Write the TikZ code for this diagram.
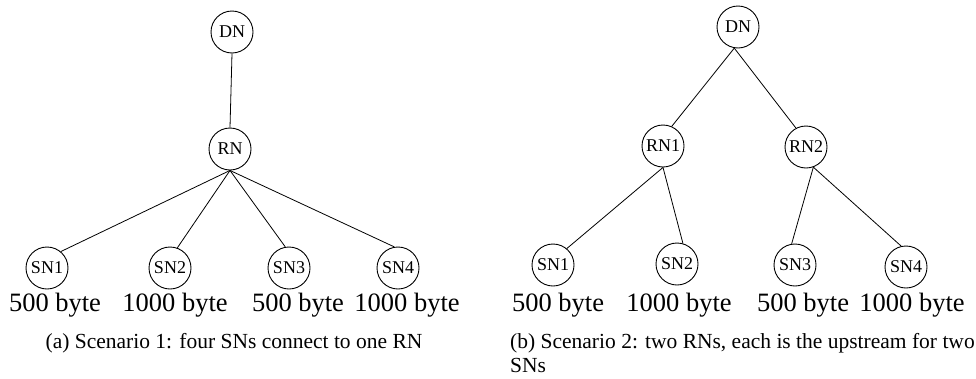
\documentclass[tikz,border=0pt]{standalone}
\usepackage{fontspec}
\setmainfont{Liberation Serif}
\begin{document}
\begin{tikzpicture}[x=1pt,y=-1pt,
  nd/.style={circle,draw,line width=0.9pt,minimum size=42pt,inner sep=0pt,font=\fontsize{18}{20}\selectfont},
  conn/.style={line width=0.8pt},
  lbl/.style={font=\fontsize{26.5}{30}\selectfont,inner sep=0pt},
  captxt/.style={font=\fontsize{21.5}{24}\selectfont,inner sep=0pt}]
\useasboundingbox (0,0) rectangle (976,378);
% left panel
\node[nd] (aDN) at (232,32) {DN};
\node[nd] (aRN) at (230,149) {RN};
\node[nd] (aSN1) at (47,268) {SN1};
\node[nd] (aSN2) at (170,268) {SN2};
\node[nd] (aSN3) at (289,268) {SN3};
\node[nd] (aSN4) at (398,268) {SN4};
\draw[conn] (aDN.south) -- (aRN.north);
\draw[conn] (aRN.south) -- (aSN1.50);
\draw[conn] (aRN.south) -- (aSN2.70);
\draw[conn] (aRN.south) -- (aSN3.100);
\draw[conn] (aRN.south) -- (aSN4.100);
\node[lbl] (aL1) at (55,305) {500 byte};
\node[lbl] (aL2) at (175,305) {1000 byte};
\node[lbl] (aL3) at (298,305) {500 byte};
\node[lbl] (aL4) at (407,305) {1000 byte};
\node[captxt] (acap) at (234,343) {(a) Scenario 1: four SNs connect to one RN};
% right panel
\node[nd] (bDN) at (738,27) {DN};
\node[nd] (bRN1) at (663,146) {RN1};
\node[nd] (bRN2) at (806,147) {RN2};
\node[nd] (bSN1) at (553,265) {SN1};
\node[nd] (bSN2) at (677,264) {SN2};
\node[nd] (bSN3) at (795,265) {SN3};
\node[nd] (bSN4) at (906,267) {SN4};
\draw[conn] (bDN.-100) -- (bRN1.66);
\draw[conn] (bDN.-100) -- (bRN2.118);
\draw[conn] (bRN1.south) -- (bSN1.50);
\draw[conn] (bRN1.south) -- (bSN2.74);
\draw[conn] (bRN2.-70) -- (bSN3.99);
\draw[conn] (bRN2.-70) -- (bSN4.103);
\node[lbl] (bL1) at (558,305) {500 byte};
\node[lbl] (bL2) at (679,305) {1000 byte};
\node[lbl] (bL3) at (803,305) {500 byte};
\node[lbl] (bL4) at (912,305) {1000 byte};
\node[captxt,anchor=north west,align=left] (bcap) at (510,333) {(b) Scenario 2: two RNs, each is the upstream for two\\SNs};
\end{tikzpicture}
\end{document}
